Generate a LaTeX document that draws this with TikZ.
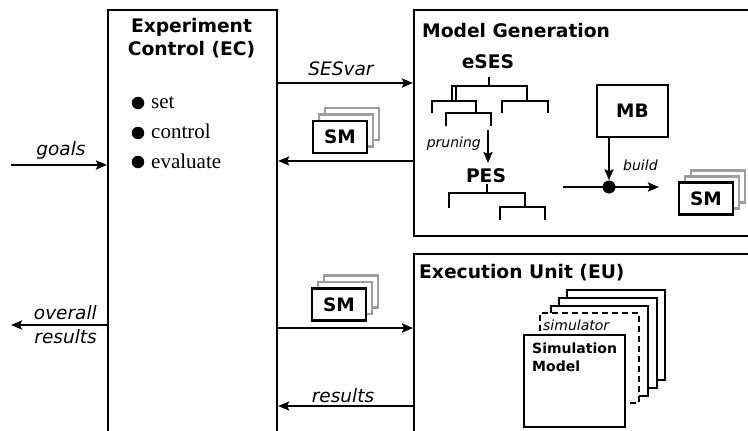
\documentclass[tikz,border=0pt]{standalone}
\usepackage{fontspec}
\setmainfont{DejaVu Sans}
\newfontfamily\listfont{Liberation Serif}
\usetikzlibrary{arrows.meta}
\definecolor{shade}{gray}{0.62}
\tikzset{
  ln/.style={line width=2.1pt},
  arr/.style={ln, -{Stealth[length=11pt,width=9pt,inset=2pt]}},
  frame/.style={draw, line width=2.1pt, fill=white, inner sep=0pt, anchor=north west},
  smfront/.style={draw, line width=2.1pt, fill=white, inner sep=0pt,
    minimum width=54pt, minimum height=32pt, font=\fontsize{18.5}{22}\selectfont\bfseries},
  smback/.style={draw=shade, line width=2.1pt, fill=white, inner sep=0pt,
    minimum width=54pt, minimum height=32pt},
  title/.style={font=\fontsize{18.7}{22}\selectfont\bfseries, inner sep=0pt},
  lbl/.style={font=\fontsize{18.5}{22}\selectfont\itshape, inner sep=0pt},
  small/.style={font=\fontsize{14}{17}\selectfont\itshape, inner sep=0pt},
  smallbold/.style={font=\fontsize{14}{17}\selectfont\bfseries, inner sep=0pt},
  item/.style={font=\fontsize{21}{24}\selectfont\listfont, inner sep=0pt, anchor=base west},
  dotmark/.style={circle, fill=black, inner sep=0pt, minimum size=12.5pt},
}
\begin{document}
\begin{tikzpicture}[x=1pt, y=-1pt]
\useasboundingbox (0,0) rectangle (748,431);

% main blocks
\node[frame, minimum width=169pt, minimum height=450pt] (ec) at (107,9) {};
\node[frame, minimum width=350pt, minimum height=226pt] (mg) at (413,9) {};
\node[frame, minimum width=350pt, minimum height=200pt] (eu) at (413,253) {};

% experiment control
\node[title, anchor=base] (ect1) at (191.5,32) {Experiment};
\node[title, anchor=base] (ect2) at (191.5,55) {Control (EC)};
\node[dotmark] (b1) at (138,103) {};
\node[dotmark] (b2) at (138,133) {};
\node[dotmark] (b3) at (138,162) {};
\node[item] (i1) at (151,108) {set};
\node[item] (i2) at (151,138) {control};
\node[item] (i3) at (151,168) {evaluate};

% inputs and outputs of EC
\coordinate (gin) at (11,165);
\coordinate (gout) at (11,325);
\draw[arr] (gin) -- (gin -| ec.west);
\node[lbl, anchor=base] (goals) at (61,155) {goals};
\draw[arr] (gout -| ec.west) -- (gout);
\node[lbl, anchor=base east] (ov1) at (97,319) {overall};
\node[lbl, anchor=base east] (ov2) at (97,343) {results};

% EC <-> model generation
\coordinate (y1) at (0,83);
\coordinate (y2) at (0,161);
\draw[arr] (y1 -| ec.east) -- (y1 -| mg.west);
\node[lbl, anchor=base] (sesvar) at (341,75) {SESvar};
\draw[arr] (y2 -| mg.west) -- (y2 -| ec.east);
\node[smback] (sma3) at (352,124) {};
\node[smback] (sma2) at (346,130.5) {};
\node[smfront] (sma) at (340,137) {SM};

% EC <-> execution unit
\coordinate (y3) at (0,328);
\coordinate (y4) at (0,406);
\draw[arr] (y3 -| ec.east) -- (y3 -| eu.west);
\draw[arr] (y4 -| eu.west) -- (y4 -| ec.east);
\node[lbl, anchor=base] (res) at (343,402) {results};
\node[smback] (smb3) at (351,291.5) {};
\node[smback] (smb2) at (345,298) {};
\node[smfront] (smb) at (339,304.5) {SM};

% model generation
\node[title, anchor=base west] (mgt) at (422,37) {Model Generation};
\node[title, anchor=base] (eses) at (488,68) {eSES};
\draw[ln] (489,77) -- (489,86);
\draw[ln] (452,101) -- (452,86) -- (527,86) -- (527,101);
\draw[ln] (456,86) -- (456,101);
\draw[ln] (432,113) -- (432,101) -- (476,101) -- (476,113);
\draw[ln] (446,126) -- (446,113) -- (491,113) -- (491,126);
\draw[ln] (502,113) -- (502,101) -- (548,101) -- (548,113);
\coordinate (pa) at (488,130);
\coordinate (pb) at (488,163);
\draw[arr] (pa) -- (pb);
\node[small, anchor=base east] (prun) at (481,147) {pruning};
\node[title, anchor=base] (pes) at (486,182) {PES};
\draw[ln] (487,184) -- (487,193);
\draw[ln] (449,208) -- (449,193) -- (525,193) -- (525,207);
\draw[ln] (500,220) -- (500,207) -- (545,207) -- (545,220);

\node[draw, line width=2.1pt, inner sep=0pt, minimum width=71pt, minimum height=52pt,
  font=\fontsize{18.5}{22}\selectfont\bfseries] (mb) at (632.5,111) {MB};
\node[dotmark, minimum size=13pt] (join) at (609,187) {};
\draw[arr] (join |- mb.south) -- (join.north);
\coordinate (bin) at (563,187);
\coordinate (bout) at (659,187);
\draw[arr] (bin) -- (bout);
\node[small, anchor=base west] (build) at (623,170) {build};
\node[smback] (smc3) at (718,186.5) {};
\node[smback] (smc2) at (712,192.5) {};
\node[smfront] (smc) at (706,198.5) {SM};

% execution unit
\node[title, anchor=base west] (eut) at (419,278) {Execution Unit (EU)};
\node[frame, minimum width=98pt, minimum height=90pt] (s4) at (566,289) {};
\node[frame, minimum width=98pt, minimum height=90pt] (s3) at (558,297) {};
\node[frame, minimum width=97pt, minimum height=90pt] (s2) at (550,305) {};
\node[frame, dash pattern=on 6pt off 4pt, minimum width=99pt, minimum height=90pt] (sim) at (539,312) {};
\node[small, anchor=base west] (simt) at (543,330) {simulator};
\node[frame, minimum width=101pt, minimum height=92pt] (smod) at (523,334) {};
\node[smallbold, anchor=base west] (smt1) at (532,353) {Simulation};
\node[smallbold, anchor=base west] (smt2) at (532,371) {Model};
\end{tikzpicture}
\end{document}
